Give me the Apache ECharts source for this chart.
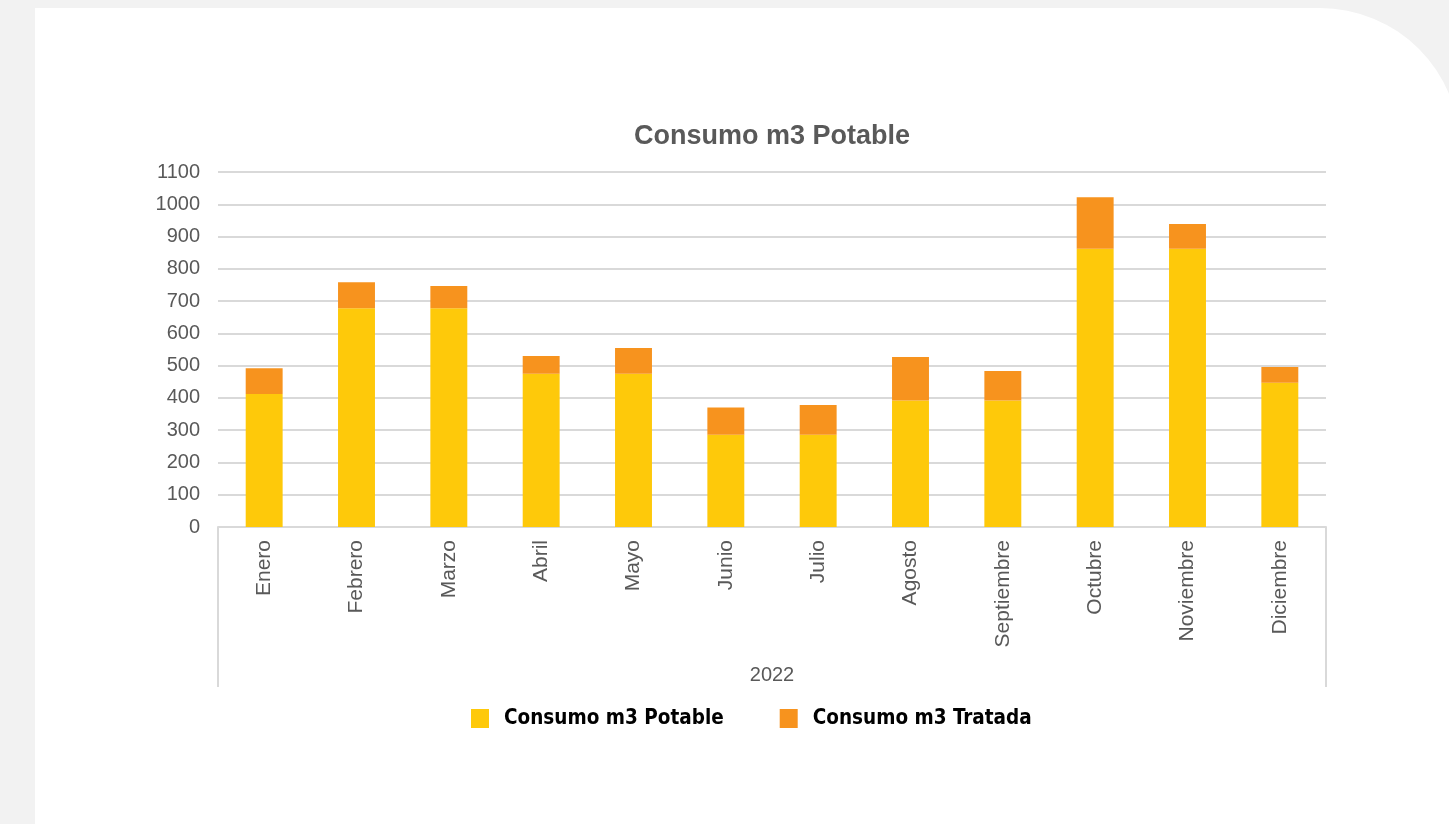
<!DOCTYPE html>
<html>
<head>
<meta charset="utf-8">
<script src="https://cdn.jsdelivr.net/npm/echarts@6/dist/echarts.min.js"></script>
<style>
  html, body { margin: 0; padding: 0; background: #f2f2f2; overflow: hidden; }
  .card {
    position: absolute; left: 35px; top: 8px; width: 1425px; height: 830px;
    background: #fff; border-top-right-radius: 140px;
  }
  #main { position: absolute; left: 0; top: 0; width: 1449px; height: 824px; }
</style>
</head>
<body>
<div class="card"></div>
<div id="main"></div>
<script>
// datos
var meses = ['Enero', 'Febrero', 'Marzo', 'Abril', 'Mayo', 'Junio', 'Julio', 'Agosto', 'Septiembre', 'Octubre', 'Noviembre', 'Diciembre'];
var potable = [412, 678, 678, 475, 475, 286, 286, 392, 392, 862, 862, 447];
var tratada = [80, 80, 69, 55, 80, 84, 92, 135, 91, 160, 77, 49];
var anio = ['2022'];

var myChart = echarts.init(document.getElementById('main'));

var option = {
    backgroundColor: 'transparent',
    animation: false,
    title: {
        text: 'Consumo m3 Potable',
        left: 767,
        textAlign: 'center',
        top: 118,
        textStyle: {
            color: '#595959',
            fontFamily: 'Liberation Sans',
            fontSize: 27,
            fontWeight: 'bold'
        }
    },
    legend: {
        left: 466,
        top: 703,
        icon: 'rect',
        itemWidth: 18,
        itemHeight: 19,
        itemGap: 56,
        textStyle: {
            color: '#000',
            fontFamily: 'DejaVu Sans Condensed',
            fontWeight: 'bold',
            fontSize: 20.5,
            padding: [0, 0, 0, 10]
        },
        data: ['Consumo m3 Potable', 'Consumo m3 Tratada']
    },
    grid: {
        left: 218,
        right: 123,
        top: 172,
        bottom: 297
    },
    xAxis: [{
        type: 'category',
        data: meses,
        axisLine: { lineStyle: { color: '#d9d9d9', width: 2 } },
        axisTick: { show: false },
        axisLabel: {
            rotate: 90,
            margin: 13,
            color: '#595959',
            fontFamily: 'Liberation Sans',
            fontSize: 21
        }
    }, {
        type: 'category',
        data: anio,
        position: 'bottom',
        offset: 160,
        axisLine: { show: false },
        axisTick: {
            show: true,
            inside: true,
            length: 160,
            lineStyle: { color: '#d9d9d9', width: 2 }
        },
        axisLabel: {
            inside: true,
            margin: 2,
            color: '#595959',
            fontFamily: 'Liberation Sans',
            fontSize: 20
        }
    }],
    yAxis: {
        type: 'value',
        min: 0,
        max: 1100,
        interval: 100,
        axisLine: { show: false },
        axisTick: { show: false },
        splitLine: { lineStyle: { color: '#d9d9d9', width: 2 } },
        axisLabel: {
            margin: 18,
            color: '#595959',
            fontFamily: 'Liberation Sans',
            fontSize: 20,
            formatter: function(v) { return String(v); }
        }
    },
    series: [{
        name: 'Consumo m3 Potable',
        type: 'bar',
        stack: 'total',
        barWidth: '40%',
        itemStyle: { color: '#fec90a' },
        data: potable
    }, {
        name: 'Consumo m3 Tratada',
        type: 'bar',
        stack: 'total',
        barWidth: '40%',
        itemStyle: { color: '#f7931e' },
        data: tratada
    }]
};

myChart.setOption(option);
</script>
</body>
</html>
